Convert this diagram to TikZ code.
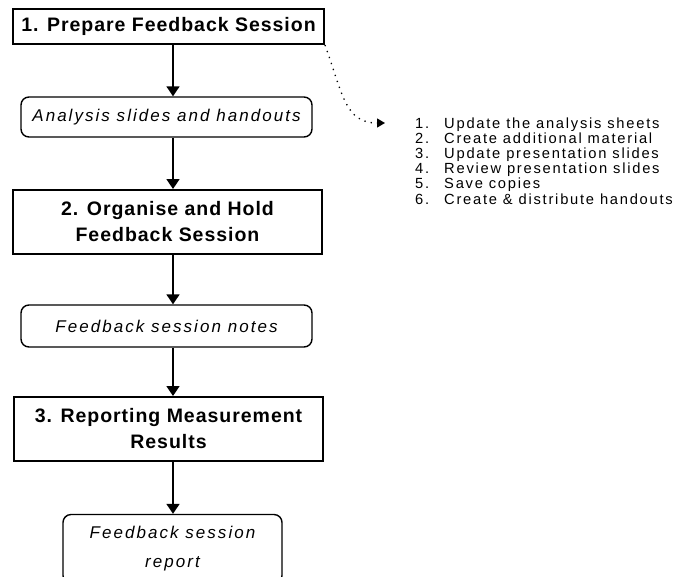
\documentclass[tikz,border=0pt]{standalone}
\usepackage{fontspec}
\setmainfont{Liberation Sans}
\newfontfamily\headfont[LetterSpace=5]{Liberation Sans}
\newfontfamily\notefont[LetterSpace=12]{Liberation Sans}
\usetikzlibrary{arrows.meta}
\begin{document}
\begin{tikzpicture}[x=1pt,y=-1pt,
  stage/.style={draw,line width=2pt,inner sep=0pt,align=center,
    font=\headfont\bfseries\fontsize{19.5}{26}\selectfont},
  product/.style={draw,line width=1.4pt,rounded corners=8pt,inner sep=0pt,align=center,
    font=\notefont\itshape\fontsize{17}{29}\selectfont},
  flow/.style={line width=1.8pt,-{Triangle[width=13pt,length=10pt]}},
  dotlink/.style={line width=1.3pt,dash pattern=on 1.3pt off 5pt,
    -{Triangle[width=9pt,length=8pt]}},
  item/.style={inner sep=0pt,anchor=base west,font=\notefont\fontsize{14.7}{15}\selectfont}]
\useasboundingbox (0,0) rectangle (692,576);
\clip (0,0) rectangle (692,576);

% main flow: stages and their outputs
\node[stage,minimum width=311pt,minimum height=35pt] (s1) at (168.5,26.5)
  {1. Prepare Feedback Session};
\node[product,minimum width=291pt,minimum height=40pt] (p1) at (166.5,117)
  {Analysis slides and handouts};
\node[stage,minimum width=309pt,minimum height=64pt] (s2) at (167.5,222)
  {2. Organise and Hold\\Feedback Session};
\node[product,minimum width=291pt,minimum height=42pt] (p2) at (166.5,326)
  {Feedback session notes};
\node[stage,minimum width=309pt,minimum height=64pt] (s3) at (168.5,429)
  {3. Reporting Measurement\\Results};
\node[product,minimum width=219pt,minimum height=69pt] (p3) at (172.5,549)
  {Feedback session\\report};

% vertical connectors run on one common line
\coordinate (spine) at (173,0);
\draw[flow] (s1.south -| spine) -- (p1.north -| spine);
\draw[flow] (p1.south -| spine) -- (s2.north -| spine);
\draw[flow] (s2.south -| spine) -- (p2.north -| spine);
\draw[flow] (p2.south -| spine) -- (s3.north -| spine);
\draw[flow] (s3.south -| spine) -- (p3.north -| spine);

% detail list for step 1
\foreach \t [count=\k] in {Update the analysis sheets,Create additional material,
    Update presentation slides,Review presentation slides,Save copies,
    Create \& distribute handouts} {
  \node[item] (num\k) at (415,{128+15.2*(\k-1)}) {\k.};
  \node[item] (txt\k) at (444,{128+15.2*(\k-1)}) {\t};
}
\coordinate (listin) at (385,123);
\draw[dotlink] (s1.south east) .. controls (343,95) and (345,123) .. (listin);
\end{tikzpicture}
\end{document}
